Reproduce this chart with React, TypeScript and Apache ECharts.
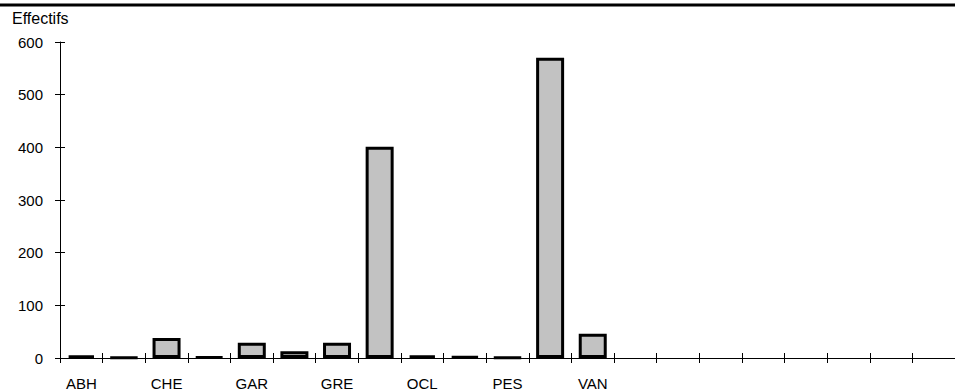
import React, { useEffect, useRef } from "react";
import * as echarts from "echarts";

// Station codes (every other slot is unlabelled), then empty slots up to 21
const categories = [
  "ABH", "", "CHE", "", "GAR", "", "GRE", "", "OCL", "", "PES", "", "VAN",
  "", "", "", "", "", "", "", "",
];
const effectifs = [5, 1, 38, 2, 29, 13, 29, 401, 5, 3, 1, 570, 46];
const yTicks = { min: 0, max: 600, interval: 100 };

const FONT = "'Liberation Sans', Arial, sans-serif";

export default function App() {
  const ref = useRef<HTMLDivElement>(null);

  useEffect(() => {
    if (!ref.current) return;
    const chart = echarts.init(ref.current, undefined, { renderer: "svg" });
    const axisLine = { show: true, lineStyle: { color: "#000", width: 1 } };
    const tick = { color: "#000", width: 1 };
    chart.setOption({
      animation: false,
      backgroundColor: "#fff",
      grid: { left: 60, right: 0, top: 42, bottom: 33 },
      xAxis: [
        {
          type: "category",
          data: categories,
          boundaryGap: true,
          axisLine,
          axisTick: { show: false },
          axisLabel: { interval: 0, color: "#000", fontFamily: FONT, fontSize: 15, margin: 18 },
          splitLine: { show: false },
        },
        {
          // shifted copy of the axis: its ticks straddle the axis line
          type: "category",
          data: categories,
          position: "bottom",
          offset: -5,
          boundaryGap: true,
          axisLine: { show: false, onZero: false },
          axisTick: { show: true, length: 10, interval: 0, lineStyle: tick },
          axisLabel: { show: false },
          splitLine: { show: false },
        },
      ],
      yAxis: [
        {
          type: "value",
          ...yTicks,
          axisLine,
          axisTick: { show: false },
          axisLabel: { color: "#000", fontFamily: FONT, fontSize: 15, margin: 17 },
          splitLine: { show: false },
        },
        {
          type: "value",
          ...yTicks,
          position: "left",
          offset: -5,
          axisLine: { show: false, onZero: false },
          axisTick: { show: true, length: 10, lineStyle: tick },
          axisLabel: { show: false },
          splitLine: { show: false },
        },
      ],
      graphic: [
        {
          type: "rect",
          shape: { x: 0, y: 3.5, width: 955, height: 3 },
          style: { fill: "#000" },
        },
        {
          type: "text",
          left: 12,
          top: 10,
          style: { text: "Effectifs", fill: "#000", font: `16px ${FONT}` },
        },
      ],
      series: [
        {
          type: "bar",
          data: effectifs,
          barWidth: 28,
          itemStyle: {
            color: "#c2c2c2",
            borderColor: "#000",
            borderWidth: 3,
          },
        },
        {
          // empty series keeps the tick axes bound to the grid
          type: "bar",
          xAxisIndex: 1,
          yAxisIndex: 1,
          data: [],
          silent: true,
        },
      ],
    });
    return () => chart.dispose();
  }, []);

  return (
    <div
      ref={ref}
      style={{ position: "fixed", left: 0, top: 0, width: 955, height: 391 }}
    />
  );
}
